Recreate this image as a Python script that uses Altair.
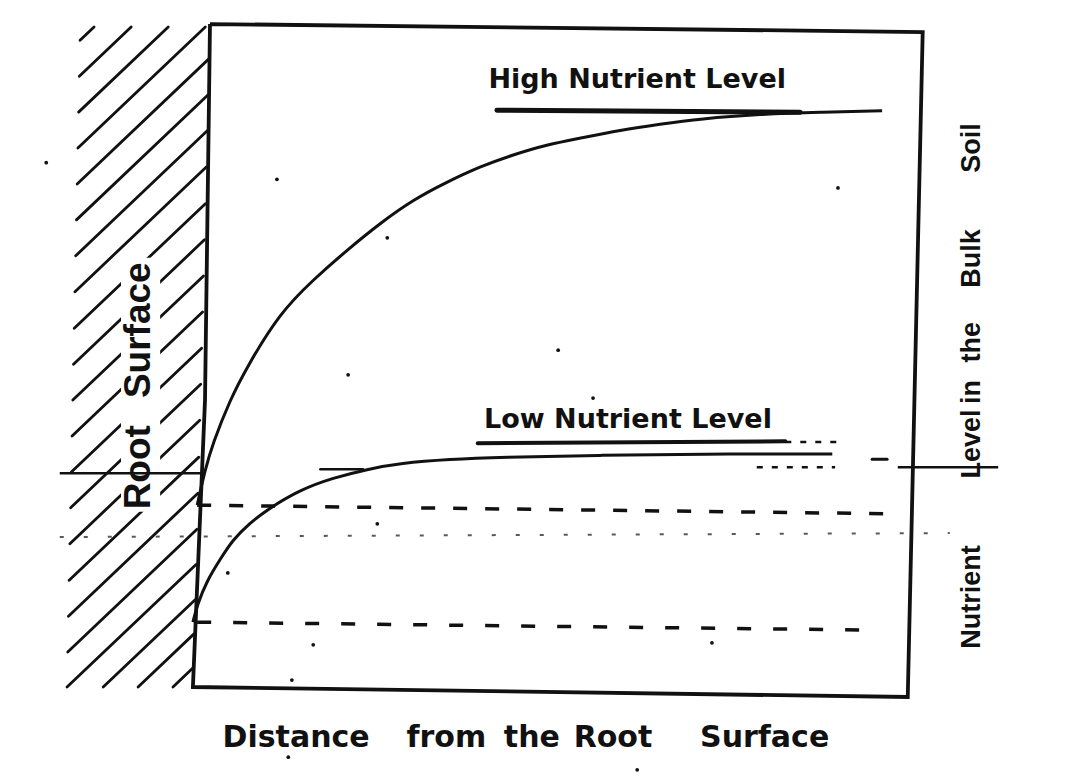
import altair as alt
import pandas as pd

# ---------------- data (distance 0-100 across the box, level 0-100 up the box) -------------
high_x = [-0.4, 0.7, 1.8, 4.2, 6.6, 11.2, 15.9, 20.7, 25.3, 29.9, 34.7, 39.3, 44.0, 48.7,
          53.4, 59.0, 64.6, 70.2, 78.7, 87.1, 95.8]
high_y = [27.8, 33.1, 37.1, 43.6, 48.6, 56.7, 61.7, 66.2, 70.2, 73.7, 76.4, 78.7, 80.5, 82.0,
          83.0, 84.2, 85.1, 85.9, 86.6, 86.9, 87.1]

low_x = [-1.0, -0.4, 1.0, 2.8, 4.6, 7.0, 9.4, 14.0, 18.7, 23.5, 28.1, 35.1, 42.1, 56.2, 70.2, 88.8]
low_y = [10.2, 12.8, 16.5, 19.6, 22.6, 25.1, 27.1, 30.1, 31.9, 33.2, 34.1, 34.7, 35.0, 35.3, 35.5, 35.5]

# box outline (corners, going round)
frame_x = [1.4, 101.5, 99.4, -1.0, 0.7, 1.4]
frame_y = [100.15, 98.95, -1.05, 0.45, 43.6, 100.15]

# dashed reference levels at the root surface: [x1, x2, y1, y2]
dash_upper = [-0.4, 97.2, 27.8, 26.5]
dash_lower = [-0.4, 95.5, 10.2, 9.0]
dotted_mid = [-19.7, 105.3, 23.0, 23.6]

# solid marker line crossing the whole figure (left and right pieces)
solid_left = [-19.7, 0.7, 32.6, 32.6]
solid_right = [98.0, 112.1, 33.5, 33.5]

# hand-drawn underlines and small strokes: x1, x2, y1, y2, width
stroke_x1 = [41.7, 39.0, 94.4, 16.9]
stroke_x2 = [84.3, 82.2, 96.5, 22.9]
stroke_y1 = [87.2, 37.1, 34.7, 33.2]
stroke_y2 = [86.9, 37.4, 34.7, 33.2]
stroke_w = [5.0, 4.0, 3.0, 2.5]
# broken fragments: x1, x2, y
frag_x1 = [78.2, 82.2]
frag_x2 = [89.2, 89.4]
frag_y = [33.5, 37.3]

# hatch lines of the root: left-end levels on the outer edge, and starts on the bottom edge
hatch_left_y = [97.7, 92.3, 86.9, 81.5, 76.1, 70.7, 65.3, 59.9, 54.4, 49.0, 43.6, 38.2,
                32.8, 27.4, 22.0, 16.5, 11.1, 5.7, 0.45]
hatch_left_x_top, hatch_left_x_bottom = -16.85, -18.68
hatch_bottom_x = [-13.6, -8.7, -3.8]
hatch_bottom_y = 0.45
hatch_top_y = 99.7
hatch_slope = 1.017
text_gap = [-11.1, -5.6, 26.8, 65.0]   # blank behind "Root Surface"

# specks of the scanned page
speck_x = [10.8, 26.3, 50.3, 20.8, 15.9, 12.9, 3.9, 61.4, 12.4, 89.6, 55.2, -21.6, 71.9, 24.9]
speck_y = [76.8, 68.0, 51.1, 47.4, 6.8, 1.5, 17.6, -12.0, -10.1, 75.5, 43.9, 79.3, 7.1, 25.0]

# labels
label_text = ["High Nutrient Level", "Low Nutrient Level"]
label_x = [61.4, 60.1]
label_y = [90.6, 39.4]

bottom_words = ["Distance", "from", "the", "Root", "Surface"]
bottom_x = [13.5, 34.6, 46.6, 58.0, 79.3]
bottom_y = -8.6

right_words = ["Nutrient", "Level", "in", "the", "Bulk", "Soil"]
right_y = [14.0, 37.0, 44.8, 52.3, 64.9, 81.5]
right_x = 109.5

left_words = ["Root", "Surface"]
left_y = [33.5, 54.1]
left_x = -7.0

# ---------------- scales ----------------
X_DOMAIN = [-26.97, 122.75]
Y_DOMAIN = [-12.48, 102.56]
xs = alt.Scale(domain=X_DOMAIN, nice=False, zero=False)
ys = alt.Scale(domain=Y_DOMAIN, nice=False, zero=False)
INK = "#111111"


def X(f="x"):
    return alt.X(f + ":Q", scale=xs, axis=None)


def Y(f="y"):
    return alt.Y(f + ":Q", scale=ys, axis=None)


def seg_df(rows):
    return pd.DataFrame(rows, columns=["x", "x2", "y", "y2"])


# hatch geometry: run each line up-right until it meets the root surface or the top
b = (frame_x[0] - frame_x[3]) / (frame_y[0] - frame_y[3])
a = frame_x[3] - frame_y[3] * b
starts = []
for y0 in hatch_left_y:
    x0 = hatch_left_x_bottom + (y0 - hatch_bottom_y) / (hatch_left_y[0] - hatch_bottom_y) * (
        hatch_left_x_top - hatch_left_x_bottom)
    starts.append((x0, y0))
for x0 in hatch_bottom_x:
    starts.append((x0, hatch_bottom_y))
hatch_rows = []
for x0, y0 in starts:
    t_edge = (a + b * y0 - x0) / (1 - hatch_slope * b)
    t_top = (hatch_top_y - y0) / hatch_slope
    t = min(t_edge, t_top)
    hatch_rows.append([x0, x0 + t, y0, y0 + hatch_slope * t])

hatch = alt.Chart(seg_df(hatch_rows)).mark_rule(color=INK, strokeWidth=2.8, strokeCap="round").encode(
    x=X(), x2="x2", y=Y(), y2="y2")

gap = alt.Chart(pd.DataFrame([{"x": text_gap[0], "x2": text_gap[1], "y": text_gap[2], "y2": text_gap[3]}])
                ).mark_rect(color="white").encode(x=X(), x2="x2", y=Y(), y2="y2")

frame = alt.Chart(pd.DataFrame({"x": frame_x, "y": frame_y, "i": range(len(frame_x))})).mark_line(
    color=INK, strokeWidth=3.8, strokeJoin="miter").encode(x=X(), y=Y(), order="i:Q")

high = alt.Chart(pd.DataFrame({"x": high_x, "y": high_y})).mark_line(
    color=INK, strokeWidth=3, interpolate="basis").encode(x=X(), y=Y())
low = alt.Chart(pd.DataFrame({"x": low_x, "y": low_y})).mark_line(
    color=INK, strokeWidth=3, interpolate="basis").encode(x=X(), y=Y())

dash_u = alt.Chart(seg_df([dash_upper])).mark_rule(
    color=INK, strokeWidth=3.5, strokeDash=[14, 18]).encode(x=X(), x2="x2", y=Y(), y2="y2")
dash_l = alt.Chart(seg_df([dash_lower])).mark_rule(
    color=INK, strokeWidth=3.5, strokeDash=[14, 22]).encode(x=X(), x2="x2", y=Y(), y2="y2")
dotted = alt.Chart(seg_df([dotted_mid])).mark_rule(
    color=INK, strokeWidth=2, strokeDash=[4, 20], opacity=0.7).encode(x=X(), x2="x2", y=Y(), y2="y2")
solid = alt.Chart(seg_df([solid_left, solid_right])).mark_rule(
    color=INK, strokeWidth=2.5).encode(x=X(), x2="x2", y=Y(), y2="y2")

strokes = alt.Chart(pd.DataFrame({"x": stroke_x1, "x2": stroke_x2, "y": stroke_y1, "y2": stroke_y2,
                                  "w": stroke_w})).mark_rule(color=INK, strokeCap="round").encode(
    x=X(), x2="x2", y=Y(), y2="y2", strokeWidth=alt.StrokeWidth("w:Q", scale=None, legend=None))
frags = alt.Chart(pd.DataFrame({"x": frag_x1, "x2": frag_x2, "y": frag_y, "y2": frag_y})).mark_rule(
    color=INK, strokeWidth=2.5, strokeDash=[6, 9]).encode(x=X(), x2="x2", y=Y(), y2="y2")

specks = alt.Chart(pd.DataFrame({"x": speck_x, "y": speck_y})).mark_circle(
    color=INK, size=14, opacity=1).encode(x=X(), y=Y())

labels = alt.Chart(pd.DataFrame({"x": label_x, "y": label_y, "t": label_text})).mark_text(
    font="DejaVu Sans", fontWeight="bold", fontSize=27, color=INK, align="center",
    baseline="alphabetic").encode(x=X(), y=Y(), text="t:N")

bottom = alt.Chart(pd.DataFrame({"x": bottom_x, "y": [bottom_y] * len(bottom_x), "t": bottom_words})).mark_text(
    font="DejaVu Sans", fontWeight="bold", fontSize=30, color=INK, align="center",
    baseline="alphabetic").encode(x=X(), y=Y(), text="t:N")

right = alt.Chart(pd.DataFrame({"x": [right_x] * len(right_words), "y": right_y, "t": right_words})).mark_text(
    font="Liberation Sans", fontWeight="bold", fontSize=27, color=INK, align="center",
    baseline="alphabetic", angle=270).encode(x=X(), y=Y(), text="t:N")

left = alt.Chart(pd.DataFrame({"x": [left_x] * len(left_words), "y": left_y, "t": left_words})).mark_text(
    font="Liberation Sans", fontWeight="bold", fontSize=37, color=INK, align="center",
    baseline="alphabetic", angle=270).encode(x=X(), y=Y(), text="t:N")

chart = alt.layer(
    hatch, gap, dotted, dash_u, dash_l, solid, frags, strokes, high, low, frame, specks,
    labels, bottom, right, left,
).properties(
    width=1066, height=765, padding=0, autosize="none", background="white"
).configure_view(stroke=None)

chart.save("out.html", embed_options={"renderer": "svg", "actions": False})
